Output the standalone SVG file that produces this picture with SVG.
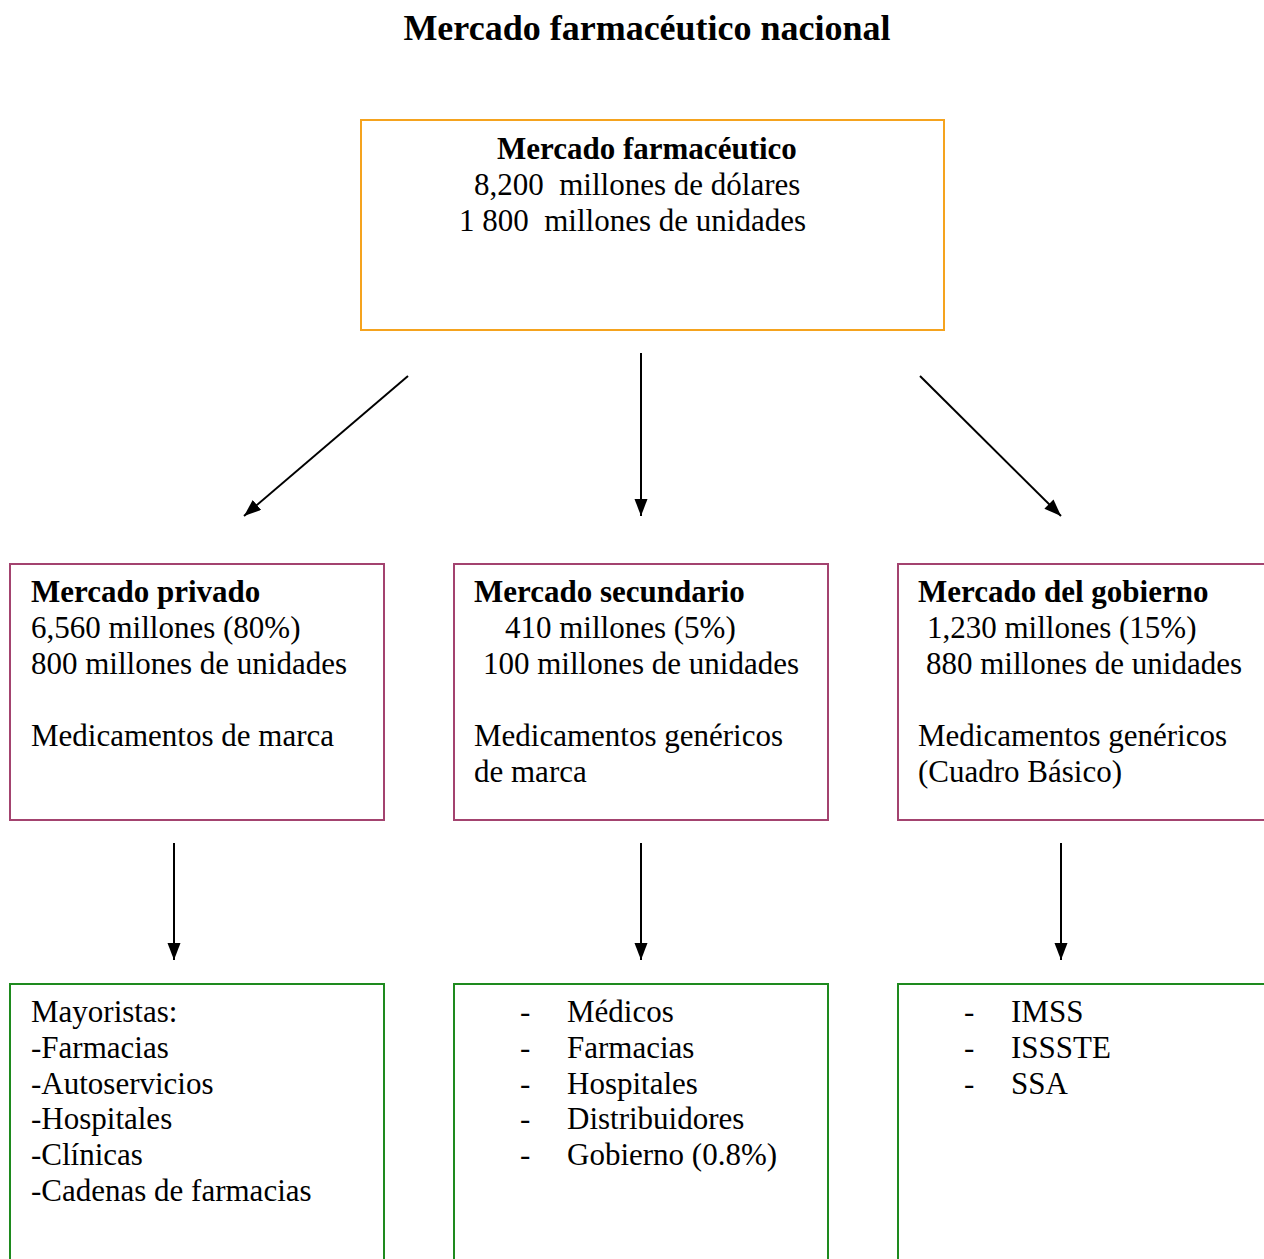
<svg xmlns="http://www.w3.org/2000/svg" width="1264" height="1259" viewBox="0 0 1264 1259">
<style>
text{font-family:"Liberation Serif","Times New Roman",serif;font-size:31px;fill:#000}
.b{font-weight:bold}
.t{font-size:36px;font-weight:bold}
.top{fill:#fff;stroke:#F5A31E;stroke-width:2}
.mid{fill:#fff;stroke:#A3436F;stroke-width:2}
.bot{fill:#fff;stroke:#1E8A1E;stroke-width:2}
.c{stroke:#000;stroke-width:2;fill:none;marker-end:url(#ah)}
</style>
<defs>
<marker id="ah" markerUnits="userSpaceOnUse" markerWidth="18" markerHeight="14" refX="17" refY="6.5" orient="auto">
<path d="M0,0 L17,6.5 L0,13 z" fill="#000"/>
</marker>
</defs>
<rect width="1264" height="1259" fill="#fff"/>
<text class="t" x="647" y="40" text-anchor="middle">Mercado farmacéutico nacional</text>
<g id="connectors">
<line class="c" x1="408" y1="376" x2="244" y2="516"/>
<line class="c" x1="641" y1="353" x2="641" y2="516"/>
<line class="c" x1="920" y1="376" x2="1061" y2="516"/>
<line class="c" x1="174" y1="843" x2="174" y2="960"/>
<line class="c" x1="641" y1="843" x2="641" y2="960"/>
<line class="c" x1="1061" y1="843" x2="1061" y2="960"/>
</g>
<g id="mercado-farmaceutico">
<rect class="top" x="361" y="120" width="583" height="210"/>
<text class="b" x="497" y="159">Mercado farmacéutico</text>
<text x="474" y="195" xml:space="preserve">8,200  millones de dólares</text>
<text x="459" y="231" xml:space="preserve">1 800  millones de unidades</text>
</g>
<g id="mercado-privado">
<rect class="mid" x="10" y="564" width="374" height="256"/>
<text class="b" x="31" y="602">Mercado privado</text>
<text x="31" y="638">6,560 millones (80%)</text>
<text x="31" y="674">800 millones de unidades</text>
<text x="31" y="746">Medicamentos de marca</text>
</g>
<g id="mercado-secundario">
<rect class="mid" x="454" y="564" width="374" height="256"/>
<text class="b" x="474" y="602">Mercado secundario</text>
<text x="505" y="638">410 millones (5%)</text>
<text x="483" y="674">100 millones de unidades</text>
<text x="474" y="746">Medicamentos genéricos</text>
<text x="474" y="782">de marca</text>
</g>
<g id="mercado-gobierno">
<rect class="mid" x="898" y="564" width="380" height="256"/>
<text class="b" x="918" y="602">Mercado del gobierno</text>
<text x="927" y="638">1,230 millones (15%)</text>
<text x="926" y="674">880 millones de unidades</text>
<text x="918" y="746">Medicamentos genéricos</text>
<text x="918" y="782">(Cuadro Básico)</text>
</g>
<g id="canales-privado">
<rect class="bot" x="10" y="984" width="374" height="290"/>
<text x="31" y="1022">Mayoristas:</text>
<text x="31" y="1058">-Farmacias</text>
<text x="31" y="1094">-Autoservicios</text>
<text x="31" y="1129">-Hospitales</text>
<text x="31" y="1165">-Clínicas</text>
<text x="31" y="1201">-Cadenas de farmacias</text>
</g>
<g id="canales-secundario">
<rect class="bot" x="454" y="984" width="374" height="290"/>
<text x="520" y="1022">-</text><text x="567" y="1022">Médicos</text>
<text x="520" y="1058">-</text><text x="567" y="1058">Farmacias</text>
<text x="520" y="1094">-</text><text x="567" y="1094">Hospitales</text>
<text x="520" y="1129">-</text><text x="567" y="1129">Distribuidores</text>
<text x="520" y="1165">-</text><text x="567" y="1165">Gobierno (0.8%)</text>
</g>
<g id="canales-gobierno">
<rect class="bot" x="898" y="984" width="380" height="290"/>
<text x="964" y="1022">-</text><text x="1011" y="1022">IMSS</text>
<text x="964" y="1058">-</text><text x="1011" y="1058">ISSSTE</text>
<text x="964" y="1094">-</text><text x="1011" y="1094">SSA</text>
</g>
</svg>
